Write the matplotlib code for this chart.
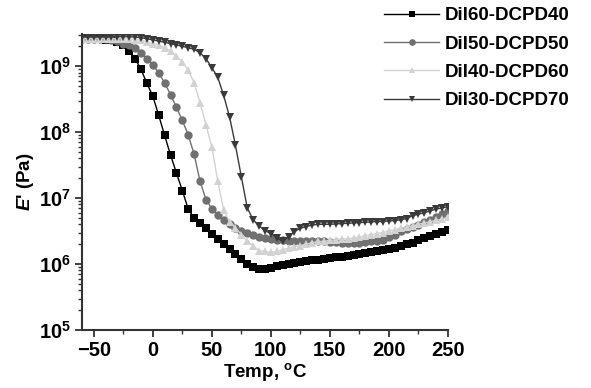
import numpy as np
import matplotlib
matplotlib.use("Agg")
import matplotlib.pyplot as plt
from matplotlib.ticker import LogLocator, MultipleLocator, NullFormatter

plt.rcParams["font.family"] = ["Liberation Sans", "DejaVu Sans"]
plt.rcParams["font.weight"] = "bold"
plt.rcParams["mathtext.fontset"] = "custom"
plt.rcParams["mathtext.rm"] = "Liberation Sans:bold"
plt.rcParams["mathtext.bf"] = "Liberation Sans:bold"
plt.rcParams["mathtext.it"] = "Liberation Sans:bold:italic"

# temperature sweep, 5 C steps
temp = np.arange(-60, 251, 5)

# storage modulus E' (Pa)
dil60 = [2.6e9, 2.6e9, 2.6e9, 2.6e9, 2.5e9, 2.5e9, 2.3e9, 2.1e9, 1.7e9, 1.3e9,
         8.9e8, 5.5e8, 3.5e8, 1.8e8, 8.9e7, 4.5e7, 2.4e7, 1.3e7, 6.8e6, 5.0e6,
         4.2e6, 3.5e6, 2.9e6, 2.4e6, 2.0e6, 1.7e6, 1.4e6, 1.2e6, 1.0e6, 9.1e5,
         8.3e5, 8.3e5, 8.7e5, 9.3e5, 9.8e5, 1.0e6, 1.05e6, 1.07e6, 1.1e6, 1.15e6,
         1.17e6, 1.2e6, 1.23e6, 1.26e6, 1.29e6, 1.32e6, 1.38e6, 1.41e6, 1.48e6, 1.51e6,
         1.58e6, 1.62e6, 1.7e6, 1.78e6, 1.86e6, 2.0e6, 2.1e6, 2.3e6, 2.5e6, 2.7e6,
         2.9e6, 3.1e6, 3.3e6]
dil50 = [2.6e9, 2.6e9, 2.6e9, 2.6e9, 2.6e9, 2.5e9, 2.4e9, 2.2e9, 2.1e9, 1.9e9,
         1.6e9, 1.3e9, 1.05e9, 7.9e8, 5.6e8, 3.7e8, 2.4e8, 1.5e8, 9.1e7, 4.6e7,
         1.8e7, 9.5e6, 6.9e6, 5.5e6, 4.6e6, 4.0e6, 3.5e6, 3.2e6, 3.0e6, 2.8e6,
         2.6e6, 2.5e6, 2.4e6, 2.3e6, 2.3e6, 2.2e6, 2.2e6, 2.2e6, 2.2e6, 2.2e6,
         2.2e6, 2.2e6, 2.15e6, 2.15e6, 2.1e6, 2.1e6, 2.1e6, 2.1e6, 2.15e6, 2.2e6,
         2.25e6, 2.35e6, 2.6e6, 2.8e6, 3.2e6, 3.4e6, 3.6e6, 3.9e6, 4.3e6, 4.7e6,
         5.1e6, 5.7e6, 6.3e6]
dil40 = [2.6e9, 2.6e9, 2.6e9, 2.6e9, 2.6e9, 2.6e9, 2.6e9, 2.6e9, 2.6e9, 2.5e9,
         2.5e9, 2.3e9, 2.2e9, 2.1e9, 1.9e9, 1.7e9, 1.4e9, 1.15e9, 8.7e8, 5.6e8,
         2.8e8, 1.3e8, 6.0e7, 1.8e7, 6.6e6, 4.4e6, 3.5e6, 2.8e6, 2.2e6, 1.9e6,
         1.6e6, 1.55e6, 1.5e6, 1.55e6, 1.66e6, 1.74e6, 1.82e6, 1.9e6, 2.0e6, 2.1e6,
         2.2e6, 2.2e6, 2.3e6, 2.3e6, 2.4e6, 2.4e6, 2.5e6, 2.55e6, 2.7e6, 2.8e6,
         2.9e6, 3.0e6, 3.2e6, 3.3e6, 3.5e6, 3.6e6, 3.8e6, 4.0e6, 4.2e6, 4.4e6,
         4.6e6, 4.8e6, 5.1e6]
dil30 = [2.8e9, 2.8e9, 2.8e9, 2.8e9, 2.8e9, 2.8e9, 2.8e9, 2.8e9, 2.8e9, 2.75e9,
         2.7e9, 2.6e9, 2.5e9, 2.4e9, 2.3e9, 2.2e9, 2.1e9, 2.0e9, 1.9e9, 1.8e9,
         1.6e9, 1.3e9, 9.5e8, 6.8e8, 3.6e8, 1.7e8, 6.3e7, 2.1e7, 7.1e6, 4.7e6,
         3.8e6, 3.2e6, 2.9e6, 2.5e6, 2.2e6, 2.6e6, 3.1e6, 3.5e6, 3.7e6, 3.9e6,
         4.0e6, 4.0e6, 4.0e6, 4.05e6, 4.1e6, 4.15e6, 4.2e6, 4.25e6, 4.3e6, 4.35e6,
         4.4e6, 4.4e6, 4.5e6, 4.55e6, 4.7e6, 4.9e6, 5.4e6, 5.7e6, 6.0e6, 6.4e6,
         6.8e6, 7.1e6, 7.4e6]

labels = ["Dil60-DCPD40", "Dil50-DCPD50", "Dil40-DCPD60", "Dil30-DCPD70"]
series = [dil60, dil50, dil40, dil30]
colors = ["#000000", "#707070", "#d2d2d2", "#3a3a3a"]
markers = ["s", "o", "^", "v"]

fig = plt.figure(figsize=(5.91, 3.88), dpi=100)
ax = fig.add_axes([0.1387, 0.1495, 0.6193, 0.7625])

handles = []
for y, lab, c, m in zip(series, labels, colors, markers):
    h, = ax.plot(temp, y, color=c, marker=m, markersize=6, linewidth=1.0,
                 markeredgewidth=0, label=lab)
    handles.append(h)

ax.set_yscale("log")
ax.set_xlim(-60, 250)
ax.set_ylim(1e5, 10 ** 9.485)

ax.xaxis.set_major_locator(MultipleLocator(50))
ax.xaxis.set_minor_locator(MultipleLocator(25))
ax.set_yticks([1e5, 1e6, 1e7, 1e8, 1e9])
ax.set_yticklabels([r"$\mathbf{10^{%d}}$" % e for e in range(5, 10)])
ax.yaxis.set_minor_locator(LogLocator(base=10, subs=np.arange(2, 10), numticks=20))
ax.yaxis.set_minor_formatter(NullFormatter())

for s in ["top", "right"]:
    ax.spines[s].set_visible(False)
for s in ["left", "bottom"]:
    ax.spines[s].set_linewidth(1.5)
    ax.spines[s].set_color("#333333")

ax.tick_params(which="major", length=5, width=1.3, color="#333333",
               labelsize=14.5, pad=3)
ax.tick_params(which="minor", length=3, width=1.0, color="#333333")

ax.set_xlabel(r"Temp, $^{\mathbf{o}}$C", fontsize=13.5, fontweight="bold", labelpad=1)
ax.set_ylabel(r"$E$' (Pa)", fontsize=13.5, fontweight="bold", labelpad=2)

fig.legend(handles=handles, loc="upper left", bbox_to_anchor=(0.622, 1.025),
           frameon=False, prop={"size": 13.5, "weight": "bold"},
           handlelength=2.9, handletextpad=0.3, labelspacing=0.6,
           markerscale=0.8)

fig.savefig("out.png", dpi=100)
